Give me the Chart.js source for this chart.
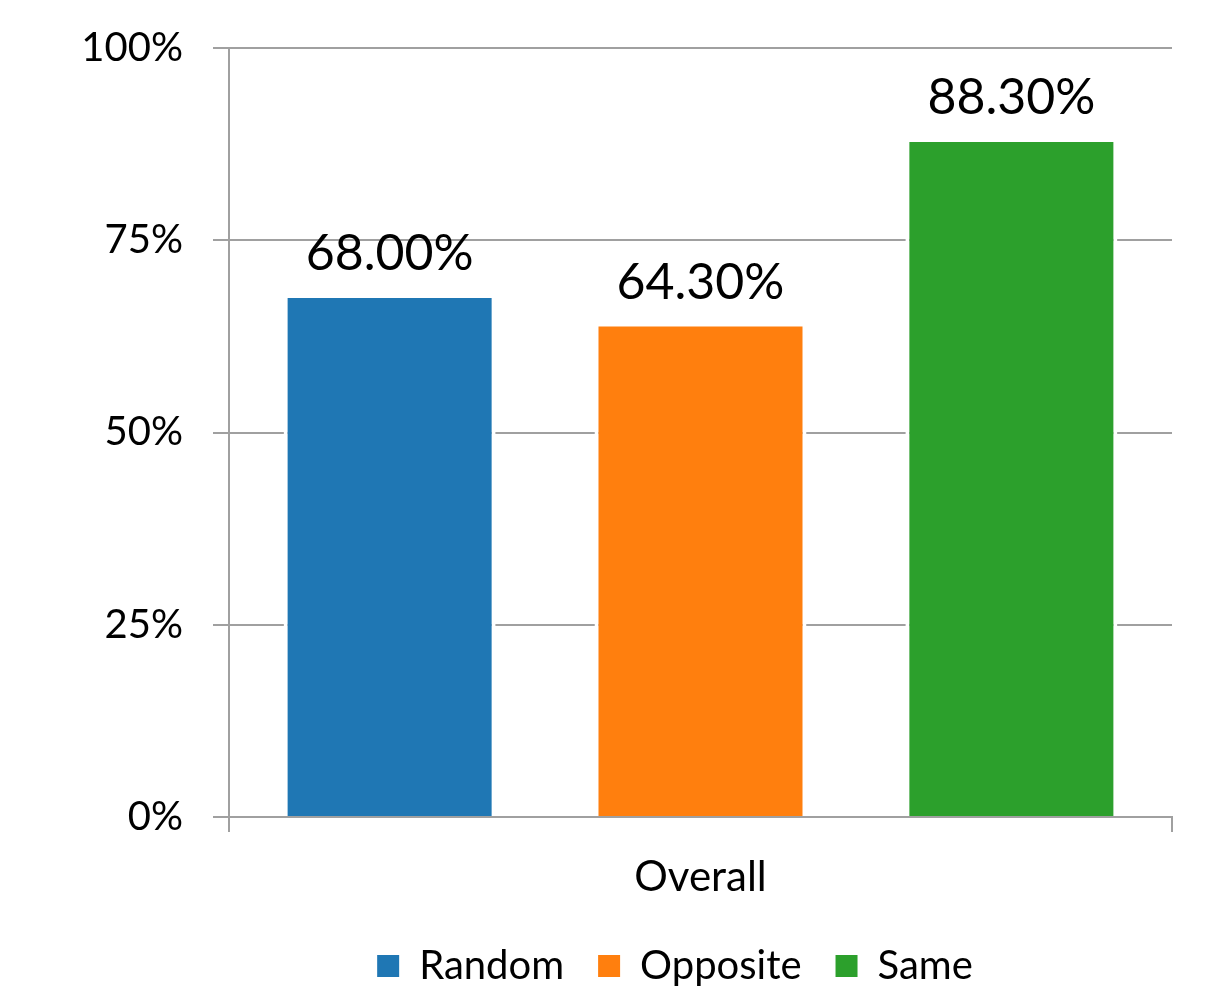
<!DOCTYPE html>
<html>
<head>
<meta charset="utf-8">
<script src="https://cdn.jsdelivr.net/npm/chart.js@4/dist/chart.umd.min.js"></script>
<style>
  html, body { margin: 0; padding: 0; background: #ffffff; }
  #wrap { width: 1213px; height: 989px; position: relative; }
</style>
</head>
<body>
<div id="wrap"><canvas id="c" width="1213" height="989"></canvas></div>
<script>
const categories = ["Overall"];
const seriesNames = ["Random", "Opposite", "Same"];
const randomValues = [68.0];
const oppositeValues = [64.3];
const sameValues = [88.3];
const seriesColors = ["#1f77b4", "#ff7f0e", "#2ca02c"];
const yTicks = [0, 25, 50, 75, 100];

const FONT = "Lato, 'Open Sans', sans-serif";

const valueLabels = {
  id: "valueLabels",
  afterDatasetsDraw(chart) {
    const ctx = chart.ctx;
    ctx.save();
    ctx.font = "50px " + FONT;
    ctx.fillStyle = "#000000";
    ctx.textAlign = "center";
    ctx.textBaseline = "bottom";
    chart.data.datasets.forEach((ds, i) => {
      const meta = chart.getDatasetMeta(i);
      meta.data.forEach((bar, j) => {
        const v = ds.data[j];
        ctx.fillText(v.toFixed(2) + "%", bar.x, bar.y - 15);
      });
    });
    ctx.restore();
  }
};

// shift the legend row so that it is centred a little left of the plot centre
const legendShift = {
  id: "legendShift",
  afterLayout(chart) {
    const lg = chart.legend;
    if (!lg) return;
    const dx = 675 - (lg.left + lg.right) / 2;
    lg.left += dx;
    lg.right += dx;
  }
};

const datasets = [randomValues, oppositeValues, sameValues].map((vals, i) => ({
  label: seriesNames[i],
  data: vals,
  backgroundColor: seriesColors[i],
  borderColor: "#ffffff",
  borderWidth: 4,
  borderSkipped: "start",
  categoryPercentage: 0.989,
  barPercentage: 0.682
}));

new Chart(document.getElementById("c"), {
  type: "bar",
  data: { labels: categories, datasets },
  options: {
    responsive: false,
    animation: false,
    devicePixelRatio: 1,
    layout: { padding: { top: 48, right: 41, left: 0, bottom: -7 } },
    plugins: {
      legend: {
        position: "bottom",
        labels: {
          font: { size: 40, family: FONT },
          color: "#000000",
          boxWidth: 22,
          boxHeight: 22,
          padding: 34,
          generateLabels(chart) {
            return chart.data.datasets.map((ds, i) => ({
              text: ds.label,
              fillStyle: ds.backgroundColor,
              strokeStyle: ds.backgroundColor,
              lineWidth: 0,
              fontColor: "#000000",
              hidden: false,
              datasetIndex: i
            }));
          }
        }
      },
      tooltip: { enabled: false }
    },
    scales: {
      x: {
        afterFit(s) { s.height = 95; s.paddingLeft = 0; s.paddingRight = 0; },
        grid: {
          offset: true,
          drawOnChartArea: false,
          drawTicks: true,
          tickLength: 15,
          color: "#a0a0a0",
          lineWidth: 2
        },
        border: { display: true, color: "#a0a0a0", width: 2 },
        ticks: { font: { size: 42, family: FONT }, color: "#000000", padding: 20 }
      },
      y: {
        min: 0,
        max: 100,
        afterFit(s) { s.width = 229; s.paddingTop = 0; s.paddingBottom = 0; },
        afterBuildTicks(s) { s.ticks = yTicks.map(v => ({ value: v })); },
        grid: {
          color: "#a0a0a0",
          lineWidth: 2,
          tickLength: 16,
          drawTicks: true
        },
        border: { display: true, color: "#a0a0a0", width: 2 },
        ticks: {
          font: { size: 40, family: FONT },
          color: "#000000",
          padding: 30,
          callback: v => v + "%"
        }
      }
    }
  },
  plugins: [valueLabels, legendShift]
});
</script>
</body>
</html>
